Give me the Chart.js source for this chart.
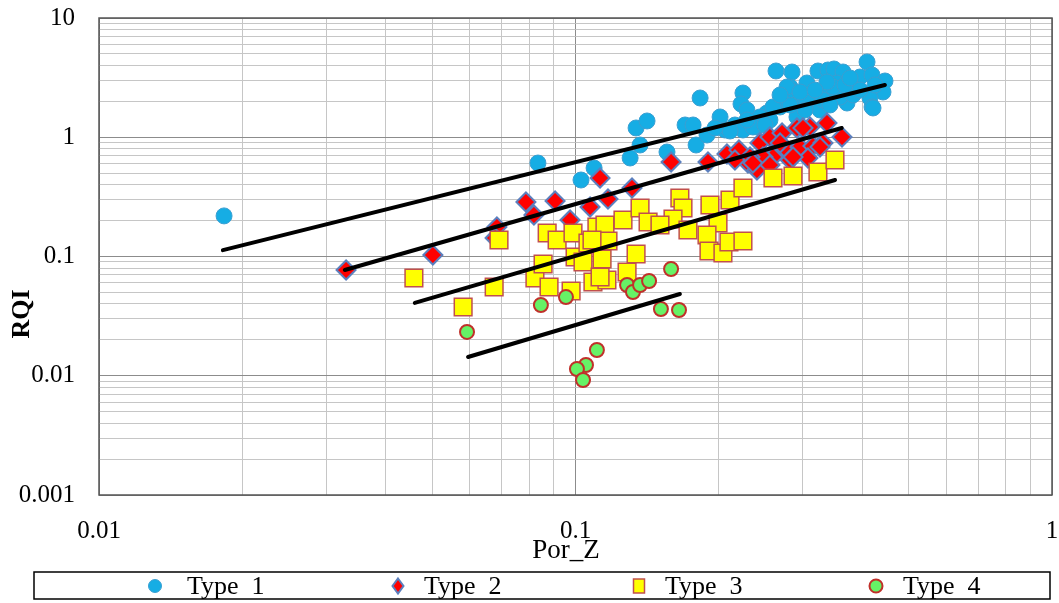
<!DOCTYPE html>
<html>
<head>
<meta charset="utf-8">
<script src="https://cdn.jsdelivr.net/npm/chart.js@4/dist/chart.umd.min.js"></script>
<style>
  html, body { margin: 0; padding: 0; background: #ffffff; }
  #wrap { width: 1059px; height: 603px; }
</style>
</head>
<body>
<div id="wrap"><canvas id="c" width="1059" height="603"></canvas></div>
<script>
// Rock type samples: Por_Z on x, RQI on y
const type1Por = [0.0183,0.0834,0.1027,0.1094,0.1302,0.1340,0.1413,0.1366,0.1556,0.1698,0.1765,0.1791,0.1826,0.1888,0.2011,0.2059,0.2161,0.2246,0.2225,0.2246,0.2290,0.2110,0.2403,0.2522,0.2635,0.2847,0.2820,0.2687,0.2916,0.3060,0.3227,0.3387,0.3487,0.3643,0.3538,0.3371,0.3150,0.3714,0.3955,0.4091,0.4191,0.4462,0.4419,0.4150,0.4191,0.3823,0.3259,0.2916,0.2559,0.2438,0.2597,0.2820,0.3060,0.3306,0.3590,0.2357,0.2820,0.3470,0.2779,0.3371,0.3823,0.4211,0.2290,0.1963,0.2959,0.3181,0.3678,0.3955,0.2687,0.2498,0.3031,0.3420,0.3768,0.4252];
const type1Rqi = [0.219,0.608,0.438,0.552,0.670,1.196,1.369,0.861,0.752,1.267,1.267,0.861,2.134,1.044,1.479,1.150,1.267,2.350,1.900,1.150,1.693,1.128,1.219,1.598,3.594,3.525,2.638,1.794,2.053,2.851,3.594,3.664,3.736,3.525,2.851,2.350,1.937,1.937,3.200,4.276,3.327,2.963,2.396,2.134,1.794,2.588,1.693,1.479,1.395,1.479,1.794,1.864,2.053,2.053,2.175,1.219,2.489,2.638,2.638,2.905,2.262,1.760,1.395,1.196,2.396,2.489,2.743,2.489,2.262,1.267,1.693,1.864,3.139,2.743];

const type2Por = [0.0330,0.0502,0.0684,0.0678,0.0787,0.0818,0.0906,0.0974,0.1073,0.1126,0.1170,0.1314,0.1587,0.1897,0.2079,0.2203,0.2301,0.2403,0.2438,0.2559,0.2713,0.2916,0.3105,0.3371,0.3625,0.2779,0.2959,0.3150,0.3306,0.2597,0.2820,0.2687,0.2474,0.2324,0.2357,0.3075,0.3259,0.3002,0.2861,0.2161,0.2559];
const type2Rqi = [0.0771,0.1029,0.1768,0.1429,0.2864,0.2228,0.2920,0.2023,0.2602,0.4551,0.3035,0.3753,0.6202,0.6202,0.7240,0.7818,0.608,0.5314,0.8950,1.005,1.085,1.196,1.219,1.317,1.005,0.7818,0.8284,0.8444,0.8950,0.6831,0.6447,0.8950,0.6831,0.6831,0.608,0.670,0.8284,1.196,0.6831,0.6447,0.5855];

const type3Por = [0.0458,0.0581,0.0675,0.0691,0.0822,0.0855,0.0872,0.0915,0.0880,0.0979,0.0988,0.0998,0.1037,0.1062,0.1088,0.1109,0.1137,0.1164,0.1153,0.1170,0.1258,0.1366,0.1420,0.1340,0.1283,0.1656,0.1681,0.1602,0.1504,0.1722,0.1915,0.1991,0.2110,0.2246,0.2597,0.2861,0.3227,0.3504,0.1888,0.1906,0.2039,0.2099,0.2246,0.1126,0.1083];
const type3Rqi = [0.0660,0.0377,0.0555,0.1375,0.0660,0.0865,0.1574,0.1375,0.0555,0.0514,0.1574,0.0990,0.0899,0.1298,0.0611,0.1768,0.0953,0.0635,0.1838,0.1349,0.2023,0.2551,0.1947,0.1049,0.0741,0.3094,0.2551,0.2063,0.1838,0.1668,0.2703,0.1910,0.2977,0.3753,0.4551,0.4732,0.5112,0.6447,0.1515,0.1112,0.1070,0.1323,0.1349,0.0673,0.1375];

const type4Por = [0.0592,0.0846,0.0955,0.1283,0.1320,0.1366,0.1427,0.1587,0.1511,0.1649,0.1109,0.1052,0.1007,0.1037];
const type4Rqi = [0.0233,0.0392,0.0457,0.0577,0.0504,0.0577,0.0623,0.0786,0.0363,0.0356,0.01644,0.01231,0.01139,0.00921];

// Fitted trend lines, one per type: [start, end]
const fit1Por = [0.0182, 0.446];  const fit1Rqi = [0.113, 2.74];
const fit2Por = [0.0328, 0.362];  const fit2Rqi = [0.077, 1.196];
const fit3Por = [0.046, 0.3505];  const fit3Rqi = [0.0408, 0.438];
const fit4Por = [0.0595, 0.1656]; const fit4Rqi = [0.01436, 0.0485];

const seriesNames = ['Type  1', 'Type  2', 'Type  3', 'Type  4'];
const xDecades = [0.01, 0.1, 1];
const xDecadeLabels = ['0.01', '0.1', '1'];
const yDecades = [0.001, 0.01, 0.1, 1, 10];
const yDecadeLabels = ['0.001', '0.01', '0.1', '1', '10'];
const xTitle = 'Por_Z';
const yTitle = 'RQI';

const pts = (xs, ys) => xs.map((x, i) => ({ x: x, y: ys[i] }));

// grid ticks at 1..9 within each decade
function decadeTicks(decades) {
  const out = [];
  for (let i = 0; i < decades.length - 1; i++) {
    for (let m = 1; m <= 9; m++) out.push(Number((decades[i] * m).toPrecision(6)));
  }
  out.push(decades[decades.length - 1]);
  return out.map(v => ({ value: v }));
}
const near = (a, b) => Math.abs(Math.log10(a) - Math.log10(b)) < 1e-6;
function decadeLabel(v, decades, labels) {
  for (let i = 0; i < decades.length; i++) if (near(v, decades[i])) return labels[i];
  return '';
}
function gridColor(v, decades) {
  return decades.some(d => near(v, d)) ? '#8c8c8c' : '#c6c6c6';
}

const FONT = 'Liberation Serif, Times New Roman, serif';

const styles = [
  { pointStyle: 'circle',  radius: 8,   bg: '#16ADE4', border: '#3A9FD2', bw: 1 },
  { pointStyle: 'rectRot', radius: 9.5, bg: '#FF0000', border: '#5B7FBE', bw: 2 },
  { pointStyle: 'rect',    radius: 12.5,bg: '#FFFF00', border: '#C0504D', bw: 1.5 },
  { pointStyle: 'circle',  radius: 7,   bg: '#66F266', border: '#C0302A', bw: 2 }
];

function typeSet(name, data, st, order) {
  return {
    label: name, data: data, order: order,
    pointStyle: st.pointStyle, pointRadius: st.radius,
    pointBackgroundColor: st.bg, pointBorderColor: st.border, pointBorderWidth: st.bw,
    pointHoverRadius: st.radius, showLine: false
  };
}
function fitSet(data) {
  return {
    label: '', data: data, order: 0, showLine: true, pointRadius: 0, pointHoverRadius: 0,
    borderColor: '#000000', borderWidth: 4, borderCapStyle: 'round', fill: false
  };
}

const decor = {
  id: 'decor',
  afterDraw(chart) {
    const ctx = chart.ctx;
    const a = chart.chartArea;
    ctx.save();
    // plot frame
    ctx.strokeStyle = '#555555';
    ctx.lineWidth = 1.5;
    ctx.strokeRect(a.left, a.top, a.right - a.left, a.bottom - a.top);

    // axis titles
    ctx.fillStyle = '#000000';
    ctx.textAlign = 'center';
    ctx.textBaseline = 'middle';
    ctx.font = '27px ' + FONT;
    ctx.fillText(xTitle, 566, 551);
    ctx.save();
    ctx.translate(22, 314);
    ctx.rotate(-Math.PI / 2);
    ctx.font = 'bold 26px ' + FONT;
    ctx.fillText(yTitle, 0, 0);
    ctx.restore();

    // legend box
    ctx.strokeStyle = '#000000';
    ctx.lineWidth = 1.5;
    ctx.strokeRect(34, 572, 1016, 27);
    const markX = [155, 398, 639, 876];
    const textX = [187, 424, 665, 903];
    const my = 586;
    ctx.textAlign = 'left';
    ctx.font = '26px ' + FONT;
    for (let i = 0; i < 4; i++) {
      const st = styles[i];
      ctx.fillStyle = st.bg;
      ctx.strokeStyle = st.border;
      ctx.lineWidth = st.bw;
      ctx.beginPath();
      const x = markX[i];
      if (st.pointStyle === 'circle') {
        ctx.arc(x, my, 6.5, 0, Math.PI * 2);
      } else if (st.pointStyle === 'rectRot') {
        ctx.moveTo(x, my - 7.5); ctx.lineTo(x + 5.5, my); ctx.lineTo(x, my + 7.5); ctx.lineTo(x - 5.5, my); ctx.closePath();
      } else {
        ctx.rect(x - 5.5, my - 7, 11, 14);
      }
      ctx.fill();
      ctx.stroke();
      ctx.fillStyle = '#000000';
      ctx.fillText(seriesNames[i], textX[i], my + 1);
    }
    ctx.restore();
  }
};

new Chart(document.getElementById('c'), {
  type: 'scatter',
  data: {
    datasets: [
      typeSet(seriesNames[0], pts(type1Por, type1Rqi), styles[0], 4),
      typeSet(seriesNames[1], pts(type2Por, type2Rqi), styles[1], 3),
      typeSet(seriesNames[2], pts(type3Por, type3Rqi), styles[2], 2),
      typeSet(seriesNames[3], pts(type4Por, type4Rqi), styles[3], 1),
      fitSet(pts(fit1Por, fit1Rqi)),
      fitSet(pts(fit2Por, fit2Rqi)),
      fitSet(pts(fit3Por, fit3Rqi)),
      fitSet(pts(fit4Por, fit4Rqi))
    ]
  },
  options: {
    responsive: false,
    animation: false,
    events: [],
    layout: { autoPadding: false, padding: { top: 18, right: 7, bottom: 48, left: 0 } },
    plugins: { legend: { display: false }, tooltip: { enabled: false } },
    scales: {
      x: {
        type: 'logarithmic', min: xDecades[0], max: xDecades[xDecades.length - 1],
        afterBuildTicks: s => { s.ticks = decadeTicks(xDecades); },
        afterFit: s => { s.height = 60; },
        border: { display: false },
        grid: {
          drawTicks: true, tickLength: 21, tickColor: 'rgba(0,0,0,0)', lineWidth: 1,
          color: c => gridColor(c.tick.value, xDecades)
        },
        ticks: {
          autoSkip: false, maxRotation: 0, padding: 0, color: '#000000',
          font: { family: FONT, size: 25 },
          callback: v => decadeLabel(v, xDecades, xDecadeLabels)
        }
      },
      y: {
        type: 'logarithmic', min: yDecades[0], max: yDecades[yDecades.length - 1],
        afterBuildTicks: s => { s.ticks = decadeTicks(yDecades); },
        afterFit: s => { s.width = 99; },
        border: { display: false },
        grid: {
          drawTicks: true, tickLength: 24, tickColor: 'rgba(0,0,0,0)', lineWidth: 1,
          color: c => gridColor(c.tick.value, yDecades)
        },
        ticks: {
          autoSkip: false, padding: 0, color: '#000000',
          font: { family: FONT, size: 25 },
          callback: v => decadeLabel(v, yDecades, yDecadeLabels)
        }
      }
    }
  },
  plugins: [decor]
});
</script>
</body>
</html>
